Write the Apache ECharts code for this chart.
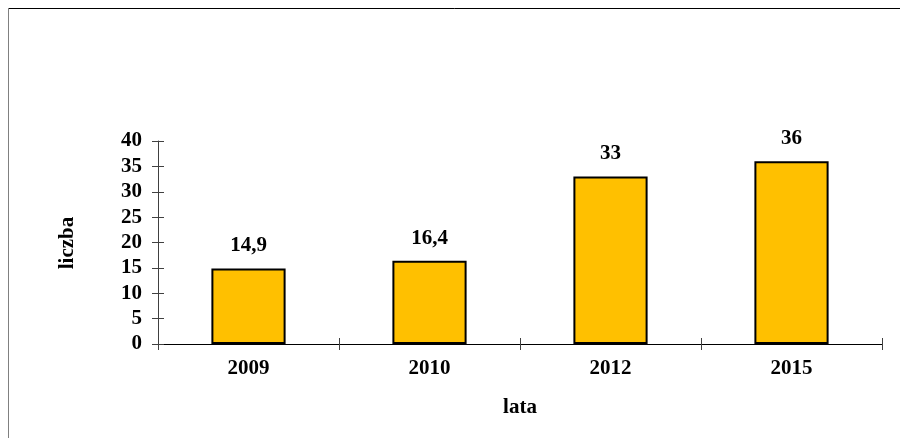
<!DOCTYPE html>
<html><head><meta charset="utf-8">
<script src="https://cdn.jsdelivr.net/npm/echarts@6/dist/echarts.min.js"></script>
<style>html,body{margin:0;padding:0;background:#fff}#c{width:900px;height:438px}</style>
</head><body><div id="c"></div>
<script>
const categories = ['2009', '2010', '2012', '2015'];
const values = [14.9, 16.4, 33, 36];
const yTicks = [0, 5, 10, 15, 20, 25, 30, 35, 40];
const xTitle = 'lata';
const yTitle = 'liczba';

const font = '"Liberation Serif", "Times New Roman", serif';
const chart = echarts.init(document.getElementById('c'), null, {renderer: 'canvas'});
const txt = {fontFamily: font, fontWeight: 'bold', fontSize: 21, color: '#000'};
const axisColor = '#404040';
chart.setOption({
  animation: false,
  backgroundColor: '#fff',
  graphic: [
    {type: 'line', shape: {x1: 8.5, y1: 8.5, x2: 900, y2: 8.5}, style: {stroke: '#000', lineWidth: 1}},
    {type: 'line', shape: {x1: 8.5, y1: 8.5, x2: 8.5, y2: 438}, style: {stroke: '#808080', lineWidth: 1}},
    {type: 'text', x: 520, y: 408, style: {text: xTitle, fill: '#000', font: 'bold 21px ' + font, textAlign: 'center', textVerticalAlign: 'middle'}},
    {type: 'text', rotation: Math.PI / 2, x: 68, y: 243, style: {text: yTitle, fill: '#000', font: 'bold 21px ' + font, textAlign: 'center', textVerticalAlign: 'middle'}}
  ],
  grid: {left: 158, top: 141, right: 18, bottom: 94, containLabel: false},
  xAxis: [{
    type: 'category', data: categories, boundaryGap: true,
    axisLine: {lineStyle: {color: '#000', width: 1}},
    axisTick: {show: true, inside: false, length: 6, lineStyle: {color: axisColor}},
    axisLabel: Object.assign({margin: 14}, txt)
  }, {
    type: 'category', data: categories, position: 'bottom', boundaryGap: true,
    axisLine: {show: false},
    axisTick: {show: true, inside: true, length: 6, lineStyle: {color: axisColor}},
    axisLabel: {show: false}
  }],
  yAxis: [{
    type: 'value', min: 0, max: 40, interval: 5,
    axisLine: {show: true, lineStyle: {color: axisColor, width: 1}},
    axisTick: {show: true, inside: false, length: 6, lineStyle: {color: axisColor}},
    splitLine: {show: false},
    axisLabel: Object.assign({margin: 16, formatter: v => yTicks.includes(v) ? String(v) : ''}, txt)
  }, {
    type: 'value', min: 0, max: 40, interval: 5, position: 'left',
    axisLine: {show: false},
    axisTick: {show: true, inside: true, length: 6, lineStyle: {color: axisColor}},
    splitLine: {show: false},
    axisLabel: {show: false}
  }],
  series: [{
    type: 'bar', data: values, barWidth: '41%',
    itemStyle: {color: '#FFC000', borderColor: '#000', borderWidth: 2},
    label: Object.assign({show: true, position: 'top', distance: 12,
      formatter: p => String(p.value).replace('.', ',')}, txt)
  }]
});
</script></body></html>
